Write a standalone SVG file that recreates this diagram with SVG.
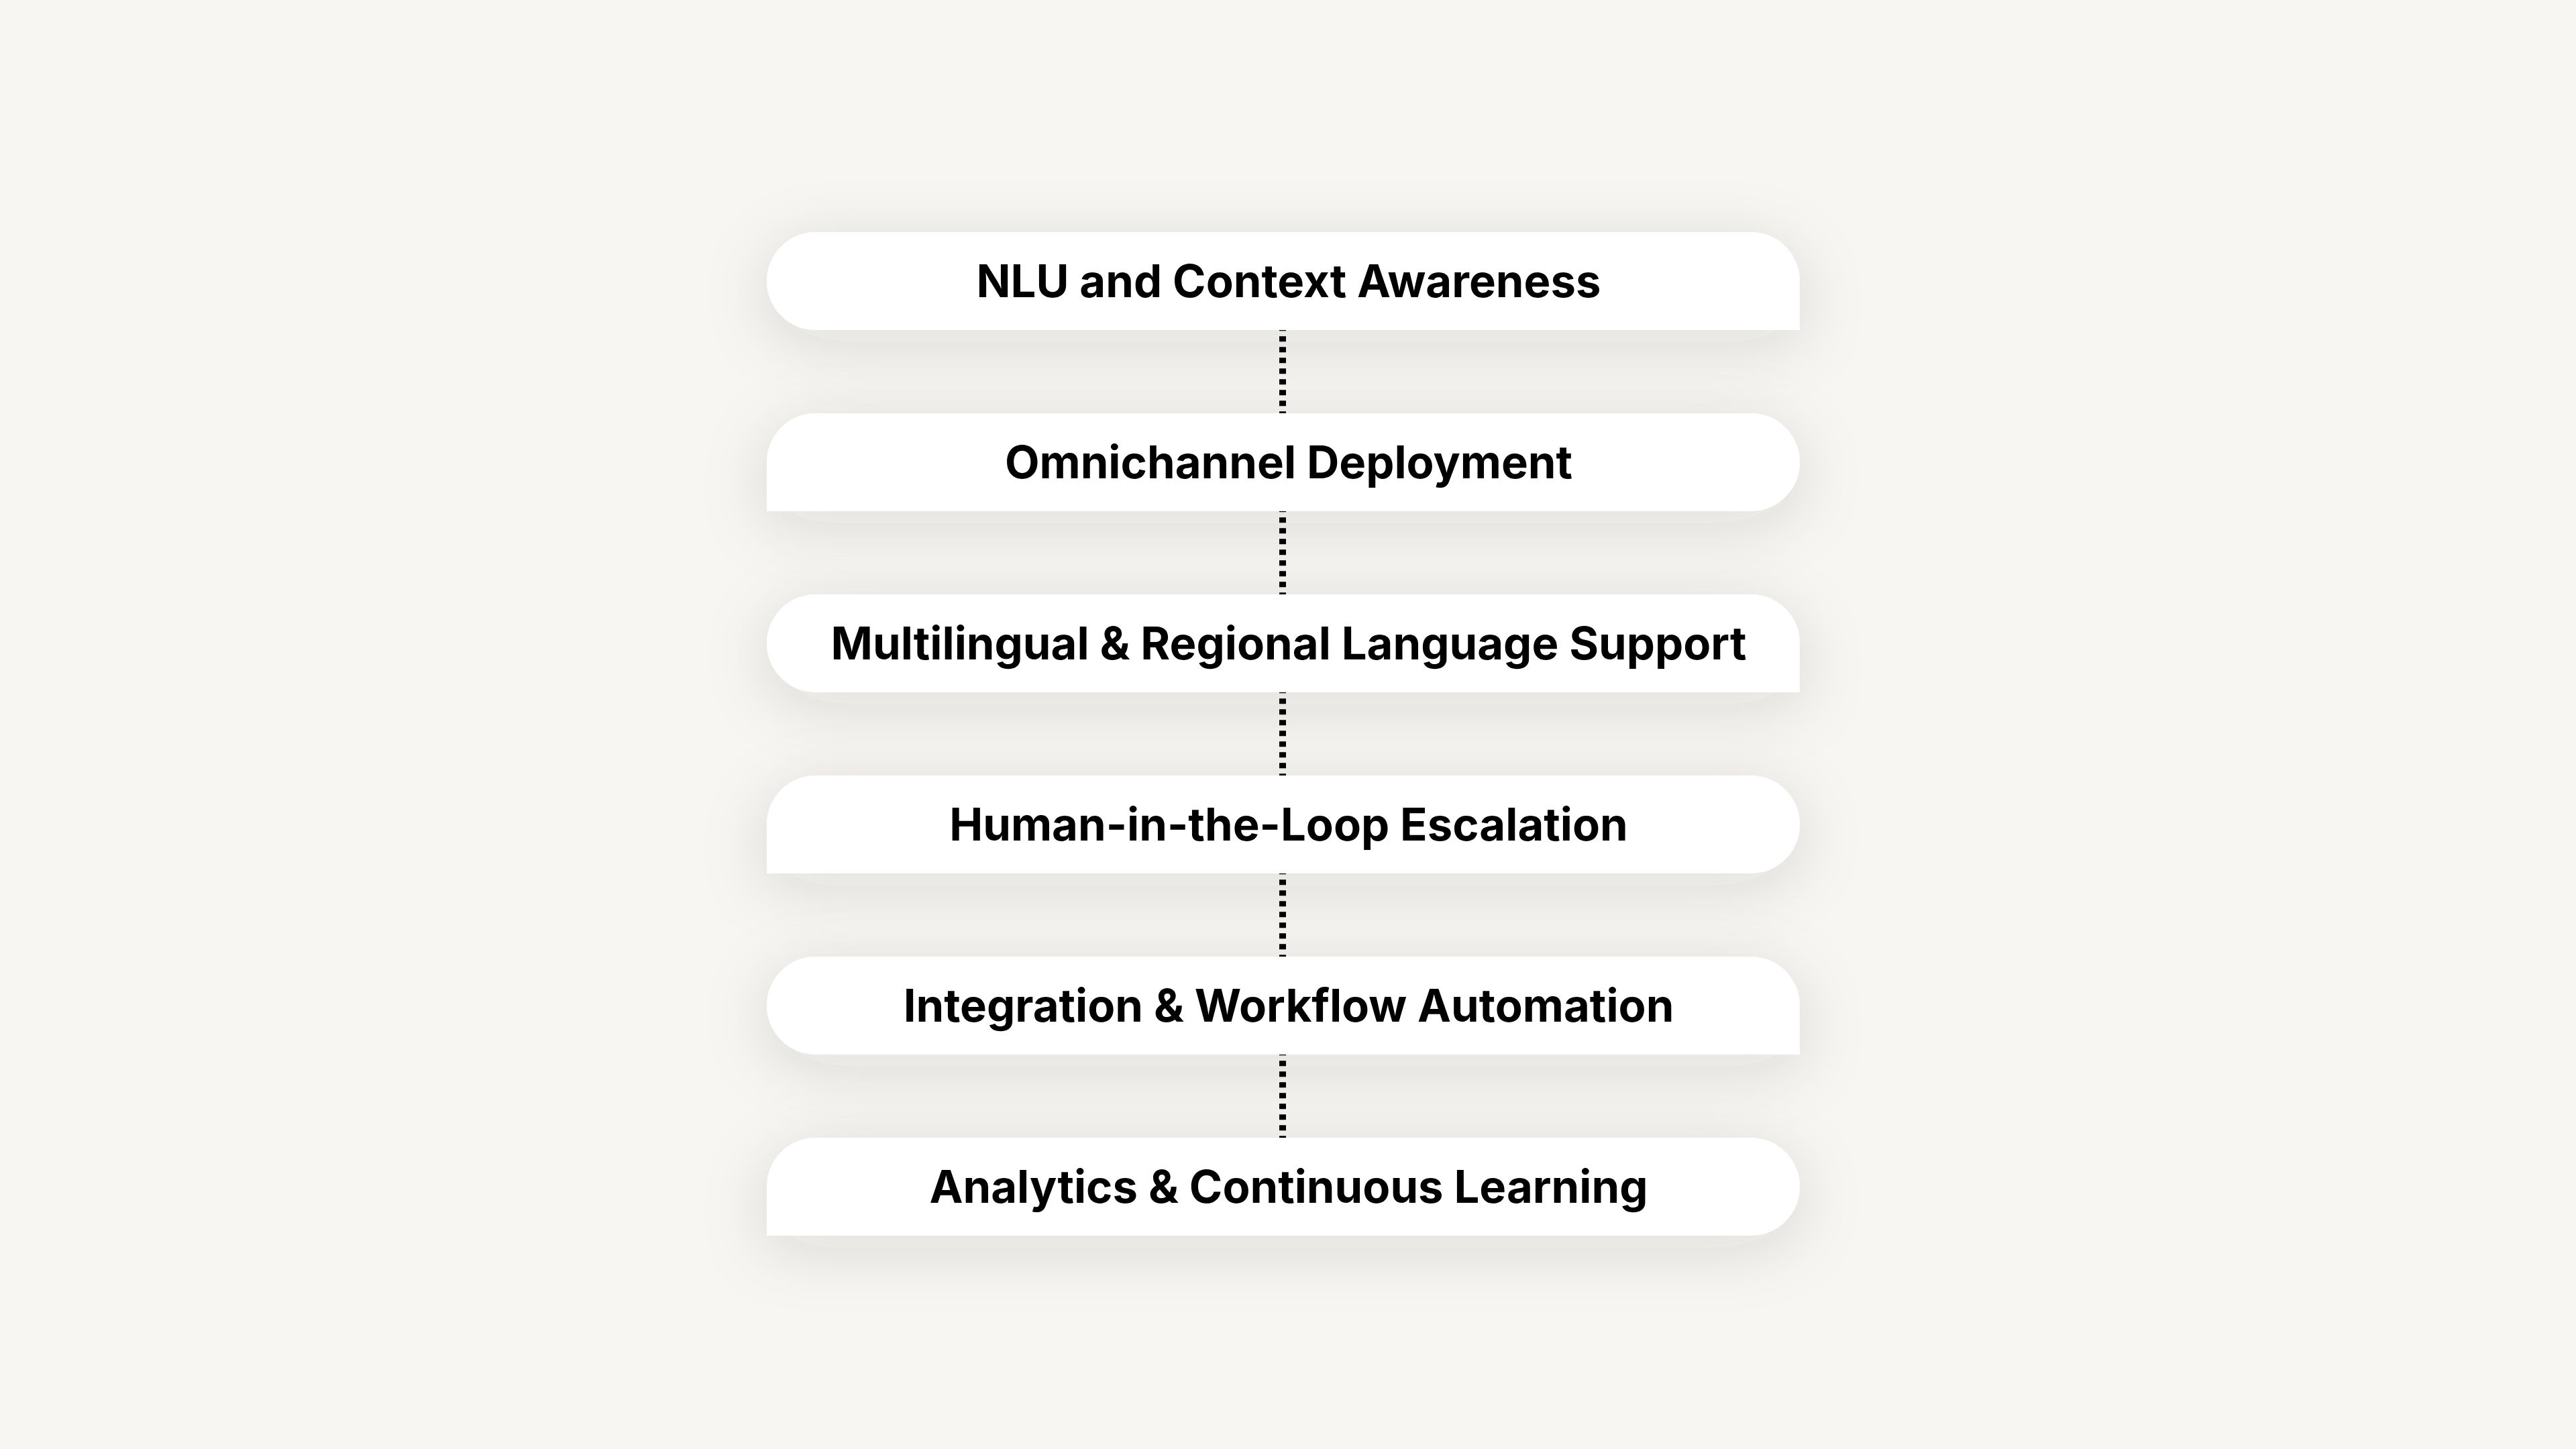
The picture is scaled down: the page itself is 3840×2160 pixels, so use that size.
<svg xmlns="http://www.w3.org/2000/svg" xmlns:xlink="http://www.w3.org/1999/xlink" width="3840" height="2160" viewBox="0 0 3840 2160">
  <style>
    .label { font-family: Inter, "Liberation Sans", sans-serif; font-weight: 700; font-size: 67px; fill: #000000; text-anchor: middle; }
    .card { fill: #ffffff; filter: url(#shadow); }
    .conn { stroke: #000000; stroke-width: 10; stroke-dasharray: 8 8; fill: none; }
  </style>
  <defs>
    <filter id="shadow" x="-20%" y="-150%" width="140%" height="400%">
      <feDropShadow dx="0" dy="18" stdDeviation="48" flood-color="#3a3320" flood-opacity="0.13"/>
    </filter>
    <path id="cardA" d="M1216,0 H2610 A73,73 0 0 1 2683,73 V146 H1216 A73,73 0 0 1 1216,0 Z"/>
    <path id="cardB" d="M1216,0 H2610 A73,73 0 0 1 2610,146 H1143 V73 A73,73 0 0 1 1216,0 Z"/>
  </defs>
  <rect x="0" y="0" width="3840" height="2160" fill="#f7f6f2"/>

  <g id="connectors">
    <line class="conn" x1="1912" y1="485.3" x2="1912" y2="622"/>
    <line class="conn" x1="1912" y1="755.3" x2="1912" y2="892"/>
    <line class="conn" x1="1912" y1="1025.3" x2="1912" y2="1162"/>
    <line class="conn" x1="1912" y1="1295.3" x2="1912" y2="1432"/>
    <line class="conn" x1="1912" y1="1565.3" x2="1912" y2="1702"/>
  </g>

  <g id="node1">
    <use class="card" xlink:href="#cardA" y="346"/>
    <text class="label" x="1921" y="443">NLU and Context Awareness</text>
  </g>
  <g id="node2">
    <use class="card" xlink:href="#cardB" y="616"/>
    <text class="label" x="1921" y="713">Omnichannel Deployment</text>
  </g>
  <g id="node3">
    <use class="card" xlink:href="#cardA" y="886"/>
    <text class="label" x="1921" y="983">Multilingual &amp; Regional Language Support</text>
  </g>
  <g id="node4">
    <use class="card" xlink:href="#cardB" y="1156"/>
    <text class="label" x="1921" y="1253">Human-in-the-Loop Escalation</text>
  </g>
  <g id="node5">
    <use class="card" xlink:href="#cardA" y="1426"/>
    <text class="label" x="1921" y="1523">Integration &amp; Workflow Automation</text>
  </g>
  <g id="node6">
    <use class="card" xlink:href="#cardB" y="1696"/>
    <text class="label" x="1921" y="1793">Analytics &amp; Continuous Learning</text>
  </g>
</svg>
